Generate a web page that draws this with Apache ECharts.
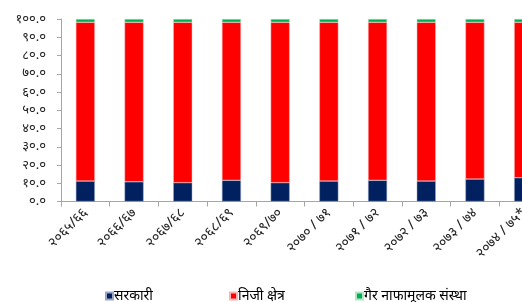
<!DOCTYPE html>
<html>
<head>
<meta charset="utf-8">
<script src="https://cdn.jsdelivr.net/npm/echarts@6/dist/echarts.min.js"></script>
<style>
  html, body { margin: 0; padding: 0; background: #fff; }
  #chart { width: 522px; height: 302px; }
</style>
</head>
<body>
<div id="chart"></div>
<script>
    // वर्षहरू (आर्थिक वर्ष)
    var categories = ['२०६५/६६', '२०६६/६७', '२०६७/६८', '२०६८/६९', '२०६९/७०',
        '२०७० / ७१', '२०७१ / ७२', '२०७२ / ७३', '२०७३ / ७४', '२०७४ / ७५*'];

    // प्रतिशत हिस्सा
    var sarkari = [11.2, 10.8, 10.3, 11.6, 10.3, 11.2, 11.6, 11.2, 12.3, 13.0];
    var nijiKshetra = [87.0, 87.4, 87.9, 86.6, 87.9, 87.0, 86.6, 87.0, 85.9, 85.2];
    var gairNafamulak = [1.8, 1.8, 1.8, 1.8, 1.8, 1.8, 1.8, 1.8, 1.8, 1.8];

    var yTickLabels = ['०.०', '१०.०', '२०.०', '३०.०', '४०.०', '५०.०',
        '६०.०', '७०.०', '८०.०', '९०.०', '१००.०'];

    var seriesNames = ['सरकारी', 'निजी क्षेत्र', 'गैर नाफामूलक संस्था'];

    var chart = echarts.init(document.getElementById('chart'));
    var font = 'Noto Sans, sans-serif';

    function legendAt(name, left) {
        return {
            data: [name],
            left: left,
            top: 284,
            itemWidth: 7,
            itemHeight: 7,
            icon: 'rect',
            textStyle: { fontSize: 14, color: '#000', fontFamily: font, padding: [0, 0, 0, -4] }
        };
    }

    var option = {
        animation: false,
        legend: [
            legendAt(seriesNames[0], 100),
            legendAt(seriesNames[1], 224),
            legendAt(seriesNames[2], 350)
        ],
        grid: { left: 61, top: 19, width: 487, height: 182.5, outerBoundsMode: 'none', containLabel: false },
        xAxis: {
            type: 'category',
            data: categories,
            axisLine: { lineStyle: { color: '#a6a6a6' } },
            axisTick: { show: true, alignWithLabel: false, length: 5, lineStyle: { color: '#a6a6a6' } },
            axisLabel: { rotate: 45, fontSize: 14, color: '#222', fontFamily: font, margin: 9, interval: 0 }
        },
        yAxis: {
            type: 'value',
            min: 0,
            max: 100,
            interval: 10,
            splitLine: { show: false },
            axisLine: { show: true, lineStyle: { color: '#a6a6a6' } },
            axisTick: { show: true, length: 4, lineStyle: { color: '#a6a6a6' } },
            axisLabel: {
                fontSize: 13, color: '#222', fontFamily: font, margin: 15,
                formatter: function (v) { return yTickLabels[Math.round(v / 10)]; }
            }
        },
        series: [
            { name: seriesNames[0], type: 'bar', stack: 'total', barWidth: 19, data: sarkari,
              itemStyle: { color: '#002060', borderColor: '#9aa6c4', borderWidth: 0.5 } },
            { name: seriesNames[1], type: 'bar', stack: 'total', barWidth: 19, data: nijiKshetra,
              itemStyle: { color: '#ff0000', borderColor: '#ffb3b3', borderWidth: 0.5 } },
            { name: seriesNames[2], type: 'bar', stack: 'total', barWidth: 19, data: gairNafamulak,
              itemStyle: { color: '#00b050', borderColor: '#b3e6c9', borderWidth: 0.5 } }
        ]
    };

    chart.setOption(option);
</script>
</body>
</html>
